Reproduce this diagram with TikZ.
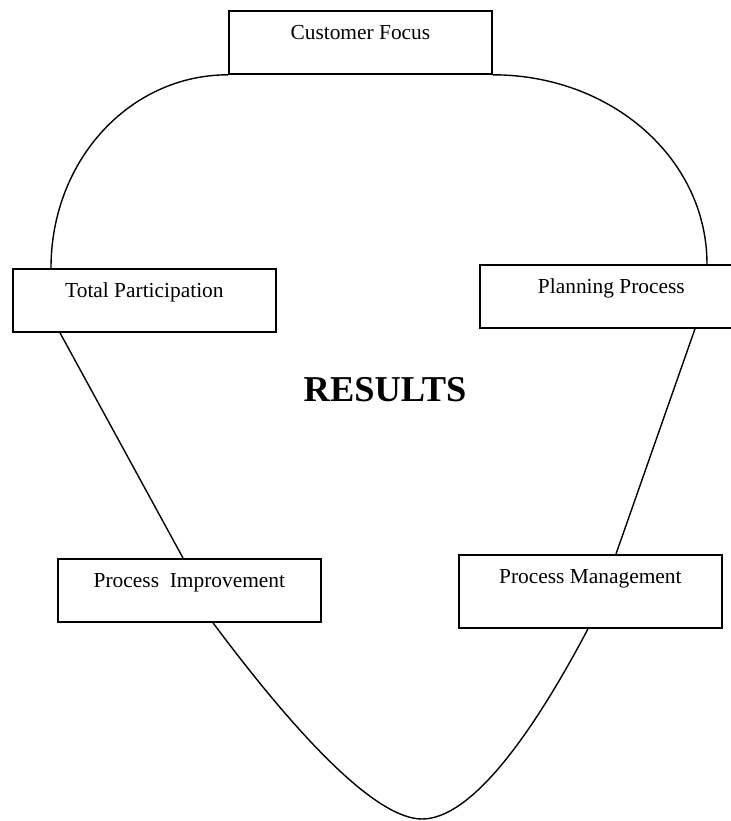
\documentclass[tikz,border=0pt]{standalone}
\usepackage{fontspec}
\setmainfont{Liberation Serif}
\usepackage{tikz}

\tikzset{
  box/.style = { draw , line width=0.9pt , inner sep=0pt , anchor=north west ,
                 minimum width=131.5pt , text height=14.5pt , text depth=17pt ,
                 font=\fontsize{10.7}{13}\selectfont },
  line/.style = { line width=0.7pt }
}

\begin{document}
\begin{tikzpicture}[ x=0.5pt , y=-0.5pt ]
\useasboundingbox (0,0) rectangle (731,821);
\node [ box ] (cf) at (228,10) {Customer Focus};
\node [ box ] (tp) at (12,268) {Total Participation};
\node [ box ] (pp) at (479,264) {Planning Process};
\node [ box ] (pi) at (57,558) {Process\ \ Improvement};
\node [ box , text depth=22pt ] (pm) at (458,554) {Process Management};
\node [ font=\bfseries\fontsize{18.2}{22}\selectfont ] (res) at (385,390) {RESULTS};
\coordinate (tip) at (422,819);
% top arcs
\draw [ line ] (cf.south west) .. controls +(-98,0) and +(0,-108) .. ([xshift=19.5pt]tp.north west);
\draw [ line ] (cf.south east) .. controls +(119,0) and +(0,-105) .. ([xshift=114pt]pp.north west);
% sides
\path [ line ]
([xshift=24pt]tp.south west) edge ([xshift=63pt]pi.north west)
([xshift=108pt]pp.south west) edge ([xshift=79pt]pm.north west);
% bottom
\draw [ line ] ([xshift=78pt]pi.south west) .. controls +(82,110) and +(-47,0) .. (tip)
  .. controls +(48,0) and +(-58,110) .. ([xshift=65pt]pm.south west);
\end{tikzpicture}
\end{document}
